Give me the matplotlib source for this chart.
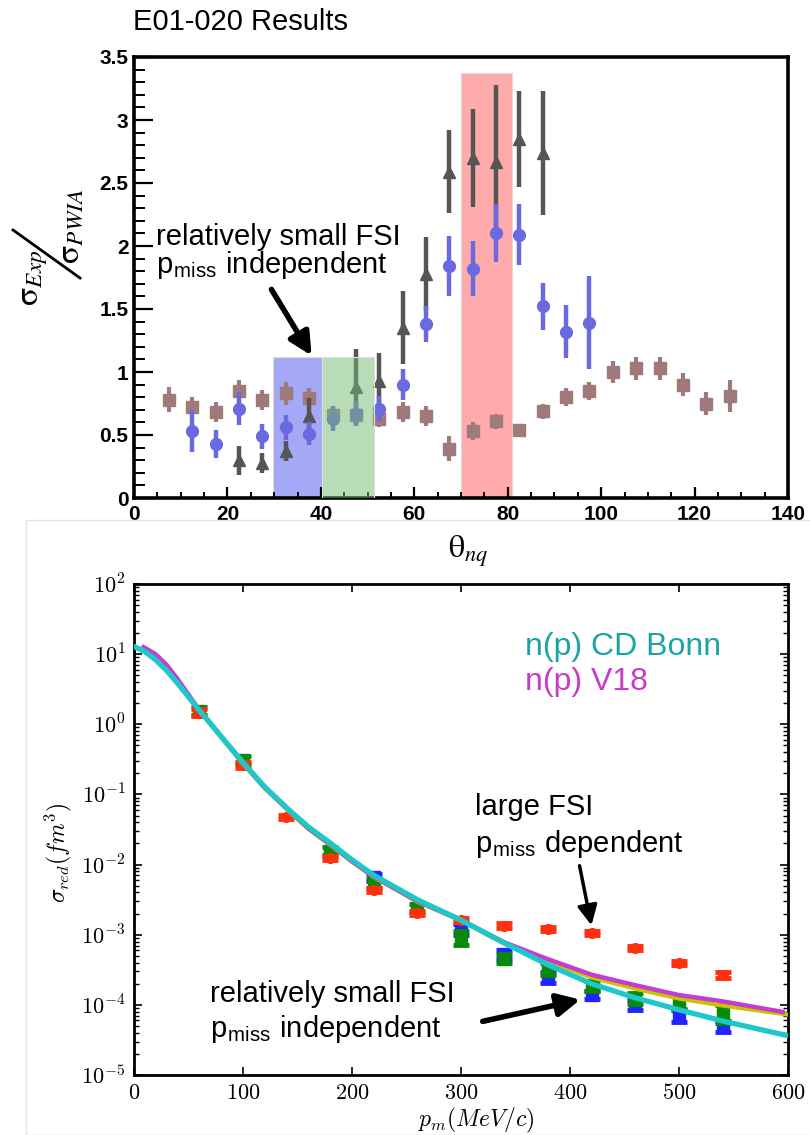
import numpy as np
import matplotlib
matplotlib.use('Agg')
import matplotlib.pyplot as plt
from matplotlib.patches import FancyArrowPatch, Rectangle
from matplotlib.lines import Line2D

plt.rcParams['font.family'] = ['Liberation Sans', 'DejaVu Sans']
plt.rcParams['mathtext.fontset'] = 'cm'

# ---------------- top panel data (E01-020 ratio) ----------------
theta_sq = [7.5, 12.5, 17.5, 22.5, 27.5, 32.5, 37.5, 42.5, 47.5, 52.5, 57.5, 62.5, 67.5,
            72.5, 77.5, 82.5, 87.5, 92.5, 97.5, 102.5, 107.5, 112.5, 117.5, 122.5, 127.5]
ratio_sq = [0.78, 0.72, 0.68, 0.85, 0.78, 0.83, 0.79, 0.66, 0.66, 0.63, 0.68, 0.65, 0.39,
            0.53, 0.61, 0.54, 0.69, 0.80, 0.85, 1.00, 1.03, 1.03, 0.90, 0.75, 0.81]
err_sq = [0.10, 0.08, 0.08, 0.09, 0.08, 0.09, 0.08, 0.07, 0.07, 0.07, 0.08, 0.08, 0.10,
          0.07, 0.06, 0.05, 0.06, 0.07, 0.07, 0.09, 0.09, 0.09, 0.09, 0.09, 0.13]

theta_ci = [12.5, 17.5, 22.5, 27.5, 32.5, 37.5, 42.5, 47.5, 52.5, 57.5, 62.5, 67.5,
            72.5, 77.5, 82.5, 87.5, 92.5, 97.5]
ratio_ci = [0.53, 0.43, 0.71, 0.49, 0.56, 0.51, 0.63, 0.67, 0.71, 0.90, 1.38, 1.84,
            1.82, 2.10, 2.09, 1.52, 1.32, 1.39]
err_ci = [0.165, 0.11, 0.13, 0.10, 0.10, 0.09, 0.10, 0.10, 0.10, 0.12, 0.14, 0.24,
          0.22, 0.23, 0.24, 0.19, 0.21, 0.37]

theta_tr = [22.5, 27.5, 32.5, 37.5, 47.5, 52.5, 57.5, 62.5, 67.5, 72.5, 77.5, 82.5, 87.5]
ratio_tr = [0.30, 0.28, 0.37, 0.65, 0.88, 0.93, 1.35, 1.78, 2.59, 2.70, 2.67, 2.85, 2.74]
err_tr = [0.115, 0.08, 0.08, 0.14, 0.30, 0.22, 0.29, 0.29, 0.33, 0.39, 0.61, 0.38, 0.49]

band_lo = [29.7, 40.3, 69.9]
band_hi = [40.3, 51.3, 81.0]
band_top = [1.12, 1.12, 3.37]

top_yticks = [0, 0.5, 1, 1.5, 2, 2.5, 3, 3.5]
top_ylabels = ['0', '0.5', '1', '1.5', '2', '2.5', '3', '3.5']
top_xticks = [0, 20, 40, 60, 80, 100, 120, 140]

# ---------------- bottom panel data (reduced cross section) ----------------
pm_red = [60, 100, 140, 180, 220, 260, 300, 340, 380, 420, 460, 500, 540]
sig_red = [1.45, 0.263, 0.048, 0.0123, 0.00437, 0.00204, 0.00162, 0.00135, 0.0012,
           0.00107, 0.000646, 0.000398, 0.000269]
pm_grn = [60, 100, 180, 220, 260, 300, 340, 380, 420, 460, 500, 540]
sig_grn = [1.55, 0.309, 0.0155, 0.00537, 0.0024, 0.00089, 0.000457, 0.000324, 0.000186,
           0.000123, 0.000107, 7.4e-5]
pm_blu = [220, 300, 340, 380, 420, 460, 500, 540]
sig_blu = [0.0066, 0.0012, 0.000525, 0.000245, 0.000138, 0.0001, 6.9e-5, 4.9e-5]
# errors in decades
lerr_red = [0.05, 0.04, 0.03, 0.03, 0.03, 0.03, 0.03, 0.03, 0.03, 0.03, 0.03, 0.03, 0.04]
lerr_grn = [0.06, 0.06, 0.06, 0.06, 0.06, 0.10, 0.07, 0.08, 0.07, 0.08, 0.09, 0.13]
lerr_blu = [0.05, 0.08, 0.06, 0.08, 0.06, 0.07, 0.09, 0.08]

# momentum distributions n(p), log10 values
pm_cdb = [0, 10, 20, 30, 40, 58, 80, 100, 120, 143, 160, 180, 200, 220, 260, 300, 340,
          380, 420, 460, 500, 540, 600]
log_cdb = [1.11, 1.04, 0.92, 0.77, 0.59, 0.24, -0.17, -0.54, -0.89, -1.23, -1.46, -1.69,
           -1.93, -2.15, -2.50, -2.79, -3.12, -3.43, -3.70, -3.90, -4.07, -4.23, -4.44]
pm_v18 = [9, 20, 30, 40, 58, 80, 100, 120, 143, 160, 180, 200, 220, 260, 300, 340, 380,
          420, 460, 500, 540, 595]
log_v18 = [1.10, 1.00, 0.85, 0.65, 0.25, -0.17, -0.55, -0.90, -1.24, -1.48, -1.71, -1.95,
           -2.17, -2.52, -2.79, -3.11, -3.35, -3.57, -3.72, -3.86, -3.95, -4.10]
pm_oth = [9, 20, 30, 40, 58, 80, 100, 120, 143, 160, 180, 200, 220, 260, 300, 340, 380,
          420, 460, 500, 540, 600]
log_oth = [1.09, 0.99, 0.84, 0.64, 0.24, -0.18, -0.56, -0.91, -1.25, -1.49, -1.72, -1.96,
           -2.18, -2.53, -2.80, -3.13, -3.38, -3.61, -3.77, -3.91, -4.01, -4.14]

bot_xticks = [0, 100, 200, 300, 400, 500, 600]
bot_yexp = [-5, -4, -3, -2, -1, 0, 1, 2]

W, H = 810, 1135
fig = plt.figure(figsize=(8.1, 11.35), dpi=100)

def fx(px):
    return px / W

def fy(py):
    return 1 - py / H

# ======================= TOP =======================
ax1 = fig.add_axes([fx(134), fy(498), fx(788) - fx(134), fy(57) - fy(498)])

for lo, hi, top, col, z in zip(band_lo, band_hi, band_top,
                               ['#a5a7f7', (0.45, 0.72, 0.45, 0.5), '#ffabab'], [1, 6, 1]):
    ax1.fill_between([lo, hi], 0, top, color=col, lw=0, zorder=z)
    ax1.plot([lo, lo, hi, hi], [0, top, top, 0], color='#dddddd', lw=0.8, zorder=z)

ax1.errorbar(theta_sq, ratio_sq, yerr=err_sq, fmt='s', ms=8.5, color='#a07a7a',
             elinewidth=3, capsize=0, zorder=3)
ax1.errorbar(theta_tr, ratio_tr, yerr=err_tr, fmt='^', ms=8, color='#555555',
             elinewidth=3.2, capsize=0, zorder=4)
ax1.errorbar(theta_ci, ratio_ci, yerr=err_ci, fmt='o', ms=8.5, color='#6a6ae0',
             elinewidth=3.2, capsize=0, zorder=5)

ax1.set_xlim(0, 140)
ax1.set_ylim(0, 3.5)
ax1.set_xticks(top_xticks)
ax1.set_xticks(np.arange(0, 141, 5), minor=True)
ax1.set_yticks(top_yticks)
ax1.set_yticklabels(top_ylabels)
ax1.set_yticks(np.arange(0, 3.51, 0.1), minor=True)
for s in ax1.spines.values():
    s.set_linewidth(2.6)
ax1.tick_params(axis='y', which='major', direction='in', length=14, width=1.6, pad=4)
ax1.tick_params(axis='y', which='minor', direction='in', length=8, width=1.4)
ax1.tick_params(axis='x', which='major', direction='in', length=8, width=1.6, pad=5)
ax1.tick_params(axis='x', which='minor', direction='in', length=4.5, width=1.4)
for lbl in ax1.get_xticklabels() + ax1.get_yticklabels():
    lbl.set_fontweight('bold')
    lbl.set_fontsize(15)

fig.text(fx(133), fy(8), 'E01-020 Results', fontsize=21, va='top', ha='left')

# y label: slanted fraction
fig.text(fx(34), fy(278), r'$\mathrm{\sigma}_{\mathit{Exp}}$', rotation=90, fontsize=24,
         ha='center', va='center', math_fontfamily='stix')
fig.text(fx(70), fy(226), r'$\mathrm{\sigma}_{\mathit{PWIA}}$', rotation=90, fontsize=24,
         ha='center', va='center', math_fontfamily='stix')
fig.add_artist(Line2D([fx(13), fx(80)], [fy(230), fy(278)], color='black', lw=2,
                      transform=fig.transFigure))
fig.text(fx(468), fy(551), r'$\mathrm{\theta}_{\mathit{nq}}$', fontsize=23,
         ha='center', va='center', math_fontfamily='stix')

ax1.text(4.7, (498 - 245) / 126, 'relatively small FSI', fontsize=21, va='baseline')
ax1.text(4.7, (498 - 273) / 126, r'p$_{\mathregular{miss}}$ independent', fontsize=21,
         va='baseline')

def arrow(p0, p1, ms=32, lw=3.5):
    a = FancyArrowPatch((fx(p0[0]), fy(p0[1])), (fx(p1[0]), fy(p1[1])),
                        transform=fig.transFigure, arrowstyle='-|>',
                        mutation_scale=ms, lw=lw, color='black', zorder=10)
    fig.add_artist(a)

arrow((270, 287), (313, 358), ms=34, lw=4)

# ======================= BOTTOM =======================
fig.add_artist(Rectangle((fx(26), 0), 1, fy(520), transform=fig.transFigure,
                         fill=False, edgecolor='#e4e4e4', lw=1))

ax2 = fig.add_axes([fx(133.7), fy(1075), fx(788) - fx(133.7), fy(584) - fy(1075)])
ax2.set_yscale('log')

def logerr(vals, lerr):
    v = np.array(vals)
    e = np.array(lerr)
    return [v * (1 - 10 ** -e), v * (10 ** e - 1)]

ax2.errorbar(pm_blu, sig_blu, yerr=logerr(sig_blu, lerr_blu), fmt='s', ms=8,
             color='#2424ff', elinewidth=4, capsize=6, capthick=3.5, zorder=3)
ax2.errorbar(pm_grn, sig_grn, yerr=logerr(sig_grn, lerr_grn), fmt='s', ms=8,
             color='#0a8a0a', elinewidth=4, capsize=6, capthick=3.5, zorder=4)
ax2.errorbar(pm_red, sig_red, yerr=logerr(sig_red, lerr_red), fmt='o', ms=7,
             color='#ff3010', elinewidth=4, capsize=6, capthick=3.5, zorder=5)

ax2.plot(pm_oth, 10.0 ** np.array(log_oth), color='#c8c400', lw=3, zorder=6)
ax2.plot(pm_v18, 10.0 ** np.array(log_v18), color='#c43cd0', lw=3.2, zorder=7)
ax2.plot(pm_cdb, 10.0 ** np.array(log_cdb), color='#1ec8c8', lw=3.8, zorder=8)

ax2.set_xlim(0, 600)
ax2.set_ylim(1e-5, 1e2)
ax2.set_xticks(bot_xticks)
ax2.set_xticklabels(['$%d$' % v for v in bot_xticks])
ax2.set_yticks([10.0 ** e for e in bot_yexp])
ax2.set_yticklabels(['$10^{%d}$' % e for e in bot_yexp])
for s in ax2.spines.values():
    s.set_linewidth(2)
ax2.tick_params(which='both', direction='in', top=True, right=True, labelsize=16)
ax2.tick_params(which='major', length=6, width=1.2, pad=6)
ax2.tick_params(which='minor', length=3.5, width=1)

fig.text(fx(58), fy(853), r'$\sigma_{red}(fm^3)$', rotation=90, fontsize=17,
         ha='center', va='center')
fig.text(fx(476), fy(1120), r'$p_m(MeV/c)$', fontsize=17, ha='center', va='center')

fig.text(fx(525), fy(655), 'n(p) CD Bonn', fontsize=23, color='#1aa4a4', va='baseline')
fig.text(fx(525), fy(690), 'n(p) V18', fontsize=23, color='#c83cc8', va='baseline')

fig.text(fx(475), fy(815), 'large FSI', fontsize=21, va='baseline')
fig.text(fx(475), fy(852), r'p$_{\mathregular{miss}}$ dependent', fontsize=21, va='baseline')
fig.text(fx(210), fy(1002), 'relatively small FSI', fontsize=21, va='baseline')
fig.text(fx(210), fy(1037), r'p$_{\mathregular{miss}}$ independent', fontsize=21,
         va='baseline')

arrow((579, 863), (592, 928), ms=30, lw=2.5)
arrow((480, 1022), (583, 999), ms=34, lw=4)

fig.savefig('out.png', dpi=100)
